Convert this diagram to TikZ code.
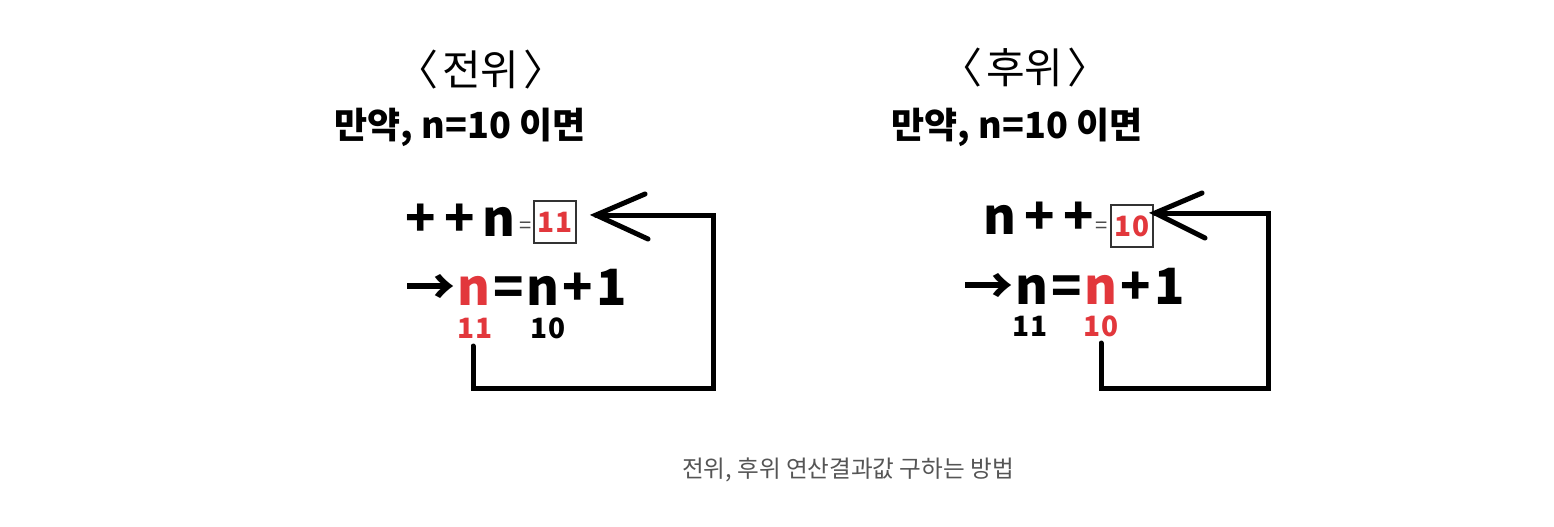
\documentclass[tikz,border=0pt]{standalone}
\usepackage{fontspec}
\setmainfont{Noto Sans CJK KR}
\newfontfamily\kr{Noto Sans CJK KR}
\definecolor{myred}{RGB}{226,55,60}
\definecolor{capgray}{RGB}{85,85,85}
\tikzset{
  hdr/.style={font=\kr\fontsize{21}{25}\selectfont, inner sep=0pt},
  cond/.style={font=\kr\bfseries\fontsize{18}{21}\selectfont, inner sep=0pt},
  expr/.style={font=\kr\bfseries\fontsize{25}{30}\selectfont, inner sep=0pt},
  numtxt/.style={font=\kr\bfseries\fontsize{14}{17}\selectfont, inner sep=0pt},
  boxed/.style={draw=black!80, line width=0.6pt, minimum width=21pt, minimum height=21pt, inner sep=0pt, font=\kr\bfseries\fontsize{14}{17}\selectfont, text=myred},
  thineq/.style={font=\kr\fontsize{11}{13}\selectfont, inner sep=0pt, text=black!70},
  loopline/.style={line width=2.5pt, line cap=round, line join=miter},
  headarm/.style={line width=2.5pt, line cap=round},
  captext/.style={font=\kr\fontsize{11.8}{14}\selectfont, text=capgray, inner sep=0pt}
}
\begin{document}
\begin{tikzpicture}[x=0.5pt,y=-0.5pt]
\useasboundingbox (0,0) rectangle (1554,526);
\fill[white] (0,0) rectangle (1554,526);

% ---------- left: prefix ----------
\node[hdr] (h1) at (481,70) {〈\kern2pt 전위\kern2pt〉};
\node[cond] (c1) at (460,127) {만약, n=10 이면};
\node[expr, anchor=west] (e1) at (405,220) {+\,+\,n};
\node[thineq] (q1) at (526,228) {=};
\node[boxed] (b1) at (555,222) {11};
\node[expr, anchor=west] (r1) at (405,287) {→\kern1pt\textcolor{myred}{n}\kern1.5pt=\kern1.5pt n\kern1.5pt+\kern1.5pt 1};
\node[numtxt, text=myred] (v1a) at (475,328) {11};
\node[numtxt] (v1b) at (548,328) {10};
\coordinate (t1) at (596,215);
\coordinate (k1) at (713,215);
\coordinate (k2) at (713,388);
\coordinate (k3) at (473,388);
\coordinate (s1) at (473,346);
\draw[loopline] (s1) -- (k3) -- (k2) -- (k1) -- (t1);
\draw[headarm] (645,194) -- (t1) -- (648,239);

% ---------- right: postfix ----------
\node[hdr] (h2) at (1025,68) {〈\kern2pt 후위\kern2pt〉};
\node[cond] (c2) at (1017,127) {만약, n=10 이면};
\node[expr, anchor=west] (e2) at (983,218) {n\,+\,+};
\node[thineq] (q2) at (1102,228) {=};
\node[boxed] (b2) at (1132,226) {10};
\node[expr, anchor=west] (r2) at (963,286) {→\kern1pt n\kern1.5pt=\kern1.5pt\textcolor{myred}{n}\kern1.5pt+\kern1.5pt 1};
\node[numtxt] (v2a) at (1030,326) {11};
\node[numtxt, text=myred] (v2b) at (1101,326) {10};
\coordinate (t2) at (1155,213);
\coordinate (m1) at (1268,213);
\coordinate (m2) at (1268,388);
\coordinate (m3) at (1101,388);
\coordinate (s2) at (1101,343);
\draw[loopline] (s2) -- (m3) -- (m2) -- (m1) -- (t2);
\draw[headarm] (1202,193) -- (t2) -- (1205,238);

% ---------- caption ----------
\node[captext] (cp) at (848,470) {전위, 후위 연산결과값 구하는 방법};
\end{tikzpicture}
\end{document}
